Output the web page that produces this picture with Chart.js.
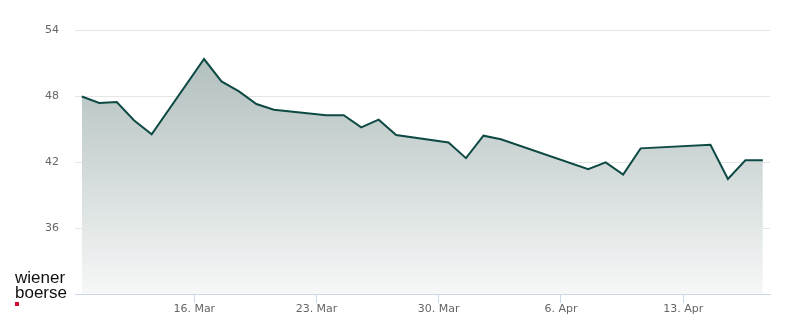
<!DOCTYPE html>
<html>
<head>
<meta charset="utf-8">
<script src="https://cdn.jsdelivr.net/npm/chart.js@4/dist/chart.umd.min.js"></script>
<style>
  html, body { margin: 0; padding: 0; background: #ffffff; }
  #wrap { position: relative; width: 800px; height: 324px; }
  #logo { position: absolute; left: 15px; top: 270px; font-family: "Liberation Sans", Arial, sans-serif; font-size: 17px; line-height: 15px; color: #111; }
  #logo .dot { position: absolute; left: 0; top: 32px; width: 4px; height: 4px; background: #d50c2f; }
</style>
</head>
<body>
<div id="wrap">
  <canvas id="c" width="800" height="324"></canvas>
  <div id="logo">wiener<br>boerse<div class="dot"></div></div>
</div>
<script>
// Trading dates (March/April 2020)
const dates = [
  "2020-03-09","2020-03-10","2020-03-11","2020-03-12","2020-03-13",
  "2020-03-16","2020-03-17","2020-03-18","2020-03-19","2020-03-20",
  "2020-03-23","2020-03-24","2020-03-25","2020-03-26","2020-03-27",
  "2020-03-30","2020-03-31","2020-04-01","2020-04-02",
  "2020-04-07","2020-04-08","2020-04-09","2020-04-10",
  "2020-04-14","2020-04-15","2020-04-16","2020-04-17"
];
const prices = [
  47.95, 47.36, 47.45, 45.78, 44.51,
  51.36, 49.33, 48.42, 47.27, 46.75,
  46.24, 46.25, 45.15, 45.85, 44.45,
  43.78, 42.35, 44.39, 44.07,
  41.35, 41.96, 40.85, 43.24,
  43.57, 40.45, 42.15, 42.15
];
const xTickDates = ["2020-03-16","2020-03-23","2020-03-30","2020-04-06","2020-04-13"];
const xTickLabels = ["16. Mar","23. Mar","30. Mar","6. Apr","13. Apr"];
const yTickValues = [30, 36, 42, 48, 54];
const yTickLabels = ["", "36", "42", "48", "54"];

const DAY = 86400000;
const BASE = Date.UTC(2020, 1, 29); // so that 1 March = day 1
function dayNum(s) {
  const [y, m, d] = s.split("-").map(Number);
  return (Date.UTC(y, m - 1, d) - BASE) / DAY;
}
const TIME_OF_DAY = 0.56; // data stamped mid-afternoon
const points = dates.map((d, i) => ({ x: dayNum(d) + TIME_OF_DAY, y: prices[i] }));
const xTickDays = xTickDates.map(dayNum);

const font = { family: "'DejaVu Sans', sans-serif", size: 11 };

new Chart(document.getElementById("c"), {
  type: "line",
  data: {
    datasets: [{
      data: points,
      borderColor: "#0e4a44",
      borderWidth: 2,
      pointRadius: 0,
      tension: 0,
      fill: "start",
      backgroundColor: (ctx) => {
        const chart = ctx.chart;
        const area = chart.chartArea;
        if (!area) return "rgba(0,0,0,0)";
        const g = chart.ctx.createLinearGradient(0, area.top, 0, area.bottom);
        g.addColorStop(0, "#a9b9b7");
        g.addColorStop(1, "#f6f7f7");
        return g;
      }
    }]
  },
  options: {
    responsive: false,
    animation: false,
    layout: { padding: { left: 0, right: 30, top: 30, bottom: 0 } },
    plugins: { legend: { display: false }, tooltip: { enabled: false } },
    scales: {
      x: {
        type: "linear",
        min: 9.17,
        max: 48.97,
        afterFit: (s) => { s.height = 30; },
        afterBuildTicks: (s) => { s.ticks = xTickDays.map(v => ({ value: v })); },
        grid: { drawOnChartArea: false, drawTicks: true, tickLength: 9, color: "#ccd6eb" },
        border: { display: true, color: "#ccd6eb", width: 1 },
        ticks: {
          autoSkip: false, maxRotation: 0, padding: 0, color: "#666666", font,
          callback: (v, i) => xTickLabels[i]
        }
      },
      y: {
        min: 30,
        max: 54,
        afterFit: (s) => { s.width = 75; },
        afterBuildTicks: (s) => { s.ticks = yTickValues.map(v => ({ value: v })); },
        grid: { drawTicks: false, color: "#e6e6e6", lineWidth: 1 },
        border: { display: false },
        ticks: {
          padding: 16, color: "#666666", font,
          callback: (v, i) => yTickLabels[i]
        }
      }
    }
  }
});
</script>
</body>
</html>
